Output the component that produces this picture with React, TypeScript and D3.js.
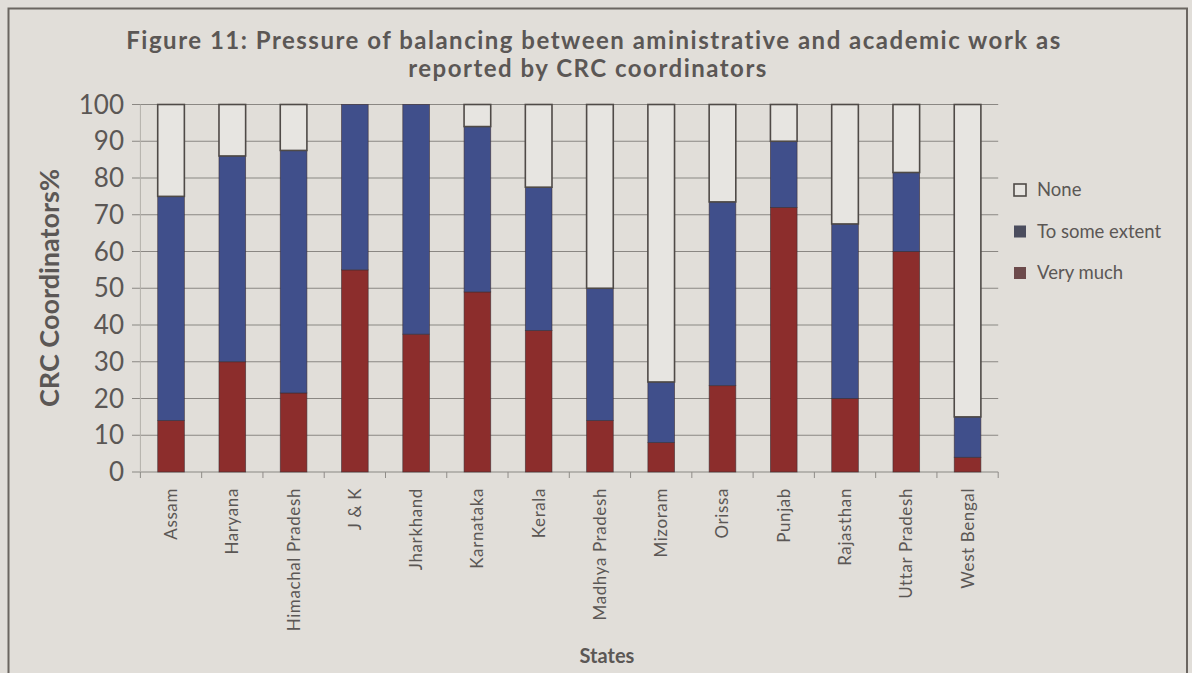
import React from "react";
import * as d3 from "d3";

// States surveyed (x categories)
const states = [
  "Assam",
  "Haryana",
  "Himachal Pradesh",
  "J & K",
  "Jharkhand",
  "Karnataka",
  "Kerala",
  "Madhya Pradesh",
  "Mizoram",
  "Orissa",
  "Punjab",
  "Rajasthan",
  "Uttar Pradesh",
  "West Bengal",
];

// Share of CRC coordinators (%) per response
const veryMuch = [14, 30, 21.5, 55, 37.5, 49, 38.5, 14, 8, 23.5, 72, 20, 60, 4];
const toSomeExtent = [61, 56, 66, 45, 62.5, 45, 39, 36, 16.5, 50, 18, 47.5, 21.5, 11];
const none = [25, 14, 12.5, 0, 0, 6, 22.5, 50, 75.5, 26.5, 10, 32.5, 18.5, 85];

const yTicks = [0, 10, 20, 30, 40, 50, 60, 70, 80, 90, 100];

const seriesKeys = ["veryMuch", "toSomeExtent", "none"];
const seriesLabels: Record<string, string> = {
  none: "None",
  toSomeExtent: "To some extent",
  veryMuch: "Very much",
};

const W = 1192;
const H = 673;
const FONT = "Lato, 'Open Sans', sans-serif";
const TEXT = "#5b5755";
const BG = "#e1ded9";

const fills: Record<string, string> = {
  veryMuch: "#8c2d2c",
  toSomeExtent: "#404f8b",
  none: "#e7e5e1",
};
const legendFills: Record<string, string> = {
  none: "#e7e5e1",
  toSomeExtent: "#4b4d5e",
  veryMuch: "#6c4a4b",
};

export default function App() {
  const rows = states.map((s, i) => ({
    state: s,
    veryMuch: veryMuch[i],
    toSomeExtent: toSomeExtent[i],
    none: none[i],
  }));
  const stacked = d3.stack<any>().keys(seriesKeys)(rows);

  const x = d3
    .scaleBand<string>()
    .domain(states)
    .range([140.4, 998.2])
    .paddingInner(0.565)
    .paddingOuter(0.2825);
  const y = d3.scaleLinear().domain([0, 100]).range([472, 104.5]);

  const [x0, x1] = x.range();
  const step = x.step();
  const boundaries = d3.range(states.length + 1).map((i) => x0 + i * step);

  const legendOrder = ["none", "toSomeExtent", "veryMuch"];

  return (
    <svg
      width={W}
      height={H}
      style={{ position: "absolute", left: 0, top: 0, display: "block" }}
      fontFamily={FONT}
    >
      <rect x={0} y={0} width={W} height={H} fill={BG} />
      {/* outer frame, open at the bottom */}
      <path
        d={`M8.5,${H + 2} V8.5 H1187 V${H + 2}`}
        fill="none"
        stroke="#6b6661"
        strokeWidth={2}
      />

      {/* title */}
      <text
        x={594}
        y={49}
        textAnchor="middle"
        fontSize={24}
        letterSpacing={1.5}
        fontWeight={700}
        fill={TEXT}
      >
        Figure 11: Pressure of balancing between aministrative and academic work as
      </text>
      <text
        x={588}
        y={77}
        textAnchor="middle"
        fontSize={24}
        letterSpacing={1.5}
        fontWeight={700}
        fill={TEXT}
      >
        reported by CRC coordinators
      </text>

      {/* horizontal gridlines and y ticks */}
      {yTicks.map((t) => (
        <g key={t}>
          <line
            x1={132}
            x2={x1}
            y1={y(t)}
            y2={y(t)}
            stroke="#8a8783"
            strokeWidth={1.2}
          />
          <text
            x={124}
            y={y(t)}
            dy="0.35em"
            textAnchor="end"
            fontSize={26}
            fill={TEXT}
          >
            {t}
          </text>
        </g>
      ))}
      {/* y axis line */}
      <line x1={x0} x2={x0} y1={y(100)} y2={y(0)} stroke="#b3b0ab" strokeWidth={1} />

      {/* category tick marks */}
      {boundaries.map((b, i) => (
        <line key={i} x1={b} x2={b} y1={y(0)} y2={y(0) + 6} stroke="#8f8c88" strokeWidth={1} />
      ))}

      {/* stacked bars */}
      {stacked.map((layer) => (
        <g key={layer.key}>
          {layer.map((d, i) => {
            const h = y(d[0]) - y(d[1]);
            if (h <= 0) return null;
            const isNone = layer.key === "none";
            return (
              <rect
                key={i}
                x={x(states[i])}
                y={y(d[1])}
                width={x.bandwidth()}
                height={h}
                fill={fills[layer.key]}
                stroke={isNone ? "#4f4a47" : "#3b2c30"}
                strokeWidth={isNone ? 1.6 : 0.8}
                strokeOpacity={isNone ? 1 : 0.7}
              />
            );
          })}
        </g>
      ))}

      {/* x category labels */}
      {states.map((s) => {
        const cx = (x(s) as number) + x.bandwidth() / 2;
        return (
          <text
            key={s}
            transform={`translate(${cx},488) rotate(-90)`}
            textAnchor="end"
            dy="0.35em"
            fontSize={17}
            letterSpacing={0.6}
            fill={TEXT}
          >
            {s}
          </text>
        );
      })}

      {/* axis titles */}
      <text
        transform={`translate(50,288) rotate(-90)`}
        textAnchor="middle"
        dy="0.35em"
        fontSize={27}
        fontWeight={700}
        fill={TEXT}
      >
        CRC Coordinators%
      </text>
      <text x={607} y={663} textAnchor="middle" fontSize={20} fontWeight={700} fill={TEXT}>
        States
      </text>

      {/* legend */}
      {legendOrder.map((k, i) => {
        const ly = 190 + i * 41.5;
        return (
          <g key={k}>
            <rect
              x={1014}
              y={ly - 6}
              width={12}
              height={12}
              fill={legendFills[k]}
              stroke={k === "none" ? "#4f4a47" : "none"}
              strokeWidth={1.6}
            />
            <text x={1037} y={ly} dy="0.35em" fontSize={18.5} fill={TEXT}>
              {seriesLabels[k]}
            </text>
          </g>
        );
      })}
    </svg>
  );
}
